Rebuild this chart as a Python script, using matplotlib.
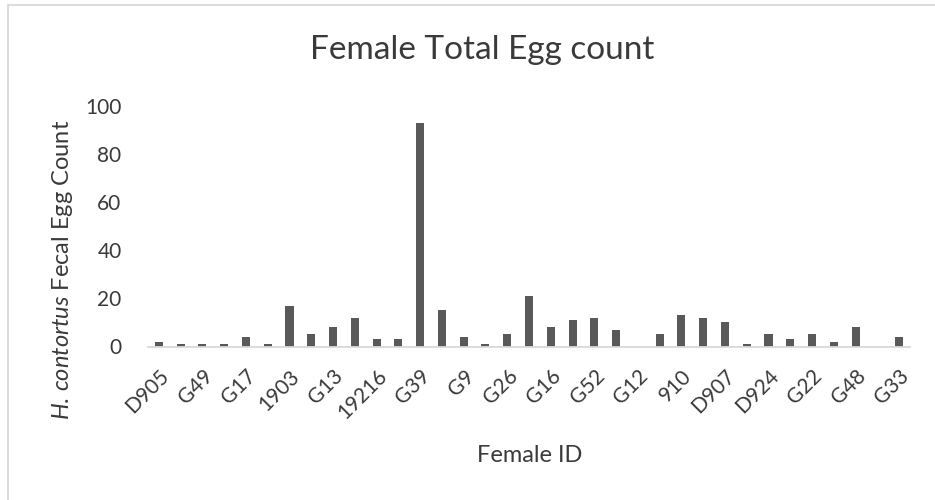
import matplotlib
matplotlib.use("Agg")
import matplotlib.pyplot as plt
from matplotlib.patches import Rectangle
import numpy as np

# Fecal egg counts per female, in barn order
egg_counts = [2, 1, 1, 1, 4, 1, 17, 5, 8, 12, 3, 3, 93, 15, 4, 1, 5, 21,
              8, 11, 12, 7, 0, 5, 13, 12, 10, 1, 5, 3, 5, 2, 8, 0, 4]
# IDs printed along the axis (every second female)
shown_ids = ["D905", "G49", "G17", "1903", "G13", "19216", "G39", "G9", "G26",
             "G16", "G52", "G12", "910", "D907", "D924", "G22", "G48", "G33"]
y_ticks = [0, 20, 40, 60, 80, 100]

plt.rcParams["font.family"] = ["Lato", "DejaVu Sans"]
plt.rcParams["mathtext.fontset"] = "custom"
plt.rcParams["mathtext.it"] = "Lato:italic"
plt.rcParams["mathtext.rm"] = "Lato"

TEXT = "#3a3a3a"
BAR = "#595959"
AXIS = "#d9d9d9"

fig = plt.figure(figsize=(9.35, 5.0), dpi=100)
fig.patch.set_facecolor("white")

# chart-area frame
fig.patches.append(Rectangle((8 / 935, -0.2), 1.2, 1.2 - 5 / 500,
                             transform=fig.transFigure, fill=False,
                             edgecolor=AXIS, linewidth=1.3))

ax = fig.add_axes([148 / 935, 1 - 346.5 / 500, (910 - 148) / 935, (346.5 - 106) / 500])

x = np.arange(len(egg_counts))
ax.bar(x, egg_counts, width=0.37, color=BAR, zorder=2)

ax.set_xlim(-0.5, len(egg_counts) - 0.5)
ax.set_ylim(0, 100)
ax.set_yticks(y_ticks)
ax.set_yticklabels([str(v) for v in y_ticks])
ax.set_xticks(x[::2])
ax.set_xticklabels(shown_ids, rotation=45, ha="right", va="top",
                   rotation_mode="anchor")

for s in ["top", "right", "left"]:
    ax.spines[s].set_visible(False)
ax.spines["bottom"].set_color(AXIS)
ax.spines["bottom"].set_linewidth(1.3)

ax.tick_params(axis="y", length=0, pad=19, labelsize=15, labelcolor=TEXT)
ax.tick_params(axis="x", length=0, pad=14, labelsize=15, labelcolor=TEXT)

fig.text(482 / 935, 1 - 50 / 500, "Female Total Egg count", fontsize=24,
         color=TEXT, ha="center", va="center")

fig.text(63 / 935, 1 - 270 / 500, r"$\it{H.\,contortus}$ Fecal Egg Count",
         fontsize=17, color=TEXT, rotation=90, ha="center", va="center")
fig.text(530 / 935, 1 - 455 / 500, "Female ID", fontsize=17, color=TEXT,
         ha="center", va="center")

fig.savefig("out.png", dpi=100)
